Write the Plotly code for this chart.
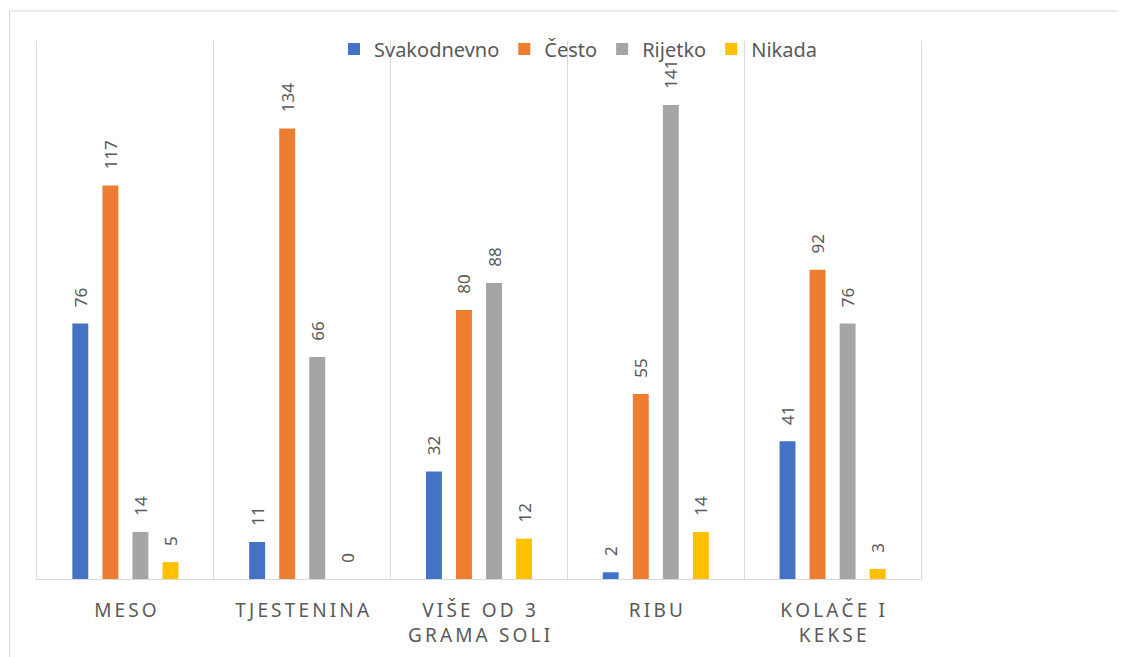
import plotly.graph_objects as go

# Categories and series
categories = ["Meso", "Tjestenina", "Više od 3<br>grama soli", "Ribu", "Kolače i<br>kekse"]
series_names = ["Svakodnevno", "Često", "Rijetko", "Nikada"]
svakodnevno = [76, 11, 32, 2, 41]
cesto = [117, 134, 80, 55, 92]
rijetko = [14, 66, 88, 141, 76]
nikada = [5, 0, 12, 14, 3]
colors = ["#4472C4", "#ED7D31", "#A5A5A5", "#FFC000"]

FONT = "Noto Sans"
GREY = "#595959"


def spaced(label):
    # Excel-style letter spacing on the category labels
    lines = label.split("<br>")
    return "<br>".join("\u2009".join(line.upper()) for line in lines)


tick_labels = [spaced(c) for c in categories]

fig = go.Figure()
for name, vals, col in zip(series_names, [svakodnevno, cesto, rijetko, nikada], colors):
    fig.add_trace(go.Bar(
        name=name, x=categories, y=vals,
        marker=dict(color=col, line=dict(width=0)),
        text=vals, texttemplate="\u00a0\u00a0\u00a0%{y}",
        textposition="outside", textangle=-90, constraintext="none",
        textfont=dict(family=FONT, size=17, color=GREY),
        cliponaxis=False,
    ))

# page is drawn with an 8px body margin, so pixel positions are shifted by 8
OFF = 8
W, H = 1126, 657
ml, mt = 37 - OFF, 41 - OFF
mr, mb = W - (921 - OFF), H - (579 - OFF)
pw, ph = W - ml - mr, H - mt - mb

fig.update_layout(
    width=W, height=H,
    margin=dict(l=ml, r=mr, t=mt, b=mb),
    paper_bgcolor="white", plot_bgcolor="white",
    barmode="group", bargap=0.32, bargroupgap=0.47,
    font=dict(family=FONT, color=GREY),
    legend=dict(orientation="h", x=(578 - OFF - ml) / pw, xanchor="center",
                y=1 + (mt - (49 - OFF)) / ph, yanchor="middle",
                font=dict(size=20, color=GREY), bgcolor="rgba(0,0,0,0)",
                itemwidth=30, tracegroupgap=0),
    showlegend=True,
)
fig.update_xaxes(
    tickmode="array", tickvals=categories, ticktext=tick_labels,
    tickson="boundaries", showgrid=True, gridcolor="#D9D9D9", gridwidth=1,
    showline=True, linecolor="#D9D9D9", linewidth=1,
    ticks="", ticklabelstandoff=14,
    tickfont=dict(size=19, color=GREY), tickangle=0,
)
# y axis only supplies the outer left/right divider lines
fig.update_yaxes(range=[0, 160], showticklabels=False, showgrid=False,
                 zeroline=False, ticks="", showline=True, mirror=True,
                 linecolor="#D9D9D9", linewidth=1)

# chart frame (Excel chart area border, runs off the right and bottom edges)
fig.add_shape(type="rect", xref="paper", yref="paper",
              x0=(1.5 - ml) / pw, x1=(W + 40 - ml) / pw,
              y0=1 - (H + 40 - mt) / ph, y1=1 + (mt - (11 - OFF)) / ph,
              line=dict(color="#D9D9D9", width=1), fillcolor="rgba(0,0,0,0)",
              layer="below")

fig.write_html("out.html")
